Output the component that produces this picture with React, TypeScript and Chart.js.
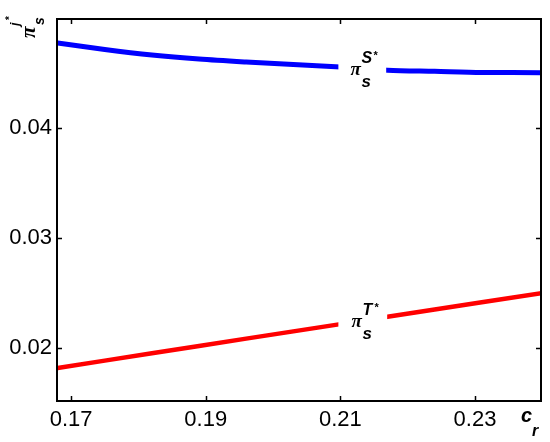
import React, { useEffect, useRef } from 'react';
import { Chart, registerables } from 'chart.js';

Chart.register(...registerables);

// Data
const crValues = [0.168, 0.175, 0.182, 0.189, 0.196, 0.203, 0.21, 0.217, 0.224, 0.231, 0.24];
const piSValues = [0.04773, 0.04714, 0.04664, 0.04627, 0.046, 0.04577, 0.04555, 0.04525, 0.04515, 0.04505, 0.04503];
const piTValues = [0.01818, 0.01885, 0.01952, 0.02018, 0.02085, 0.02151, 0.02217, 0.02284, 0.0235, 0.02416, 0.025];
const xTickValues = [0.17, 0.19, 0.21, 0.23];
const yTickValues = [0.02, 0.03, 0.04];
const xRange = [0.1679, 0.2398];
const yRange = [0.01518, 0.04991];

const FONT = "'Liberation Sans', Arial, sans-serif";

const decorPlugin = {
  id: 'decor',
  afterDatasetsDraw(chart: any) {
    const ctx = chart.ctx as CanvasRenderingContext2D;
    const { left, right, top, bottom } = chart.chartArea;
    const xs = chart.scales.x;
    const ys = chart.scales.y;
    ctx.save();
    // gaps in the curves where the labels sit
    ctx.fillStyle = '#ffffff';
    const gx0 = xs.getPixelForValue(0.2097);
    const gx1 = xs.getPixelForValue(0.2168);
    const by = ys.getPixelForValue(0.0454);
    ctx.fillRect(gx0, by - 9, gx1 - gx0, 18);
    const ry = ys.getPixelForValue(0.0225);
    ctx.fillRect(gx0, ry - 10, gx1 - gx0 + 1, 20);

    // curve labels
    const drawPi = (lx: number, base: number, sup: string) => {
      ctx.fillStyle = '#000';
      ctx.textAlign = 'left';
      ctx.textBaseline = 'alphabetic';
      ctx.font = "italic bold 19px 'Liberation Serif', serif";
      ctx.fillText('π', lx, base);
      ctx.font = `italic bold 16px ${FONT}`;
      ctx.fillText(sup, lx + 11, base - 12);
      ctx.font = `italic bold 17px ${FONT}`;
      ctx.fillText('s', lx + 11, base + 12);
      ctx.font = `bold 11px ${FONT}`;
      ctx.fillText('*', lx + 23, base - 16);
    };
    const lblX = xs.getPixelForValue(0.2132);
    drawPi(lblX - 11.5, ys.getPixelForValue(0.0455) + 7.5, 'S');
    drawPi(lblX - 10.5, ys.getPixelForValue(0.0221) + 2, 'T');

    // box
    ctx.strokeStyle = '#000';
    ctx.lineWidth = 2;
    ctx.strokeRect(left, top, right - left, bottom - top);
    // inward ticks
    ctx.lineWidth = 1.5;
    ctx.beginPath();
    xTickValues.forEach((v) => {
      const px = Math.round(xs.getPixelForValue(v)) + 0.5;
      ctx.moveTo(px, bottom);
      ctx.lineTo(px, bottom - 5);
      ctx.moveTo(px, top);
      ctx.lineTo(px, top + 5);
    });
    yTickValues.forEach((v) => {
      const py = Math.round(ys.getPixelForValue(v)) + 0.5;
      ctx.moveTo(left, py);
      ctx.lineTo(left + 5, py);
      ctx.moveTo(right, py);
      ctx.lineTo(right - 5, py);
    });
    ctx.stroke();

    // x axis title c_r
    ctx.fillStyle = '#000';
    ctx.textAlign = 'left';
    ctx.textBaseline = 'alphabetic';
    ctx.font = `italic bold 20px ${FONT}`;
    ctx.fillText('c', 521, 422);
    ctx.font = `italic bold 16px ${FONT}`;
    ctx.fillText('r', 532, 436);

    // y axis title pi_s^{j*}
    ctx.save();
    ctx.translate(35, 38);
    ctx.rotate(-Math.PI / 2);
    ctx.font = "italic bold 21px 'Liberation Serif', serif";
    ctx.fillText('π', 0, 0);
    ctx.font = `italic bold 14px ${FONT}`;
    ctx.fillText('s', 13, 9);
    ctx.font = `italic bold 13px ${FONT}`;
    ctx.fillText('j', 12, -16);
    ctx.font = `bold 10px ${FONT}`;
    ctx.fillText('*', 18, -22);
    ctx.restore();

    ctx.restore();
  },
};

export default function App() {
  const ref = useRef<HTMLCanvasElement>(null);
  useEffect(() => {
    if (!ref.current) return;
    const chart = new Chart(ref.current, {
      type: 'line',
      data: {
        datasets: [
          {
            label: 'piS',
            data: crValues.map((x, i) => ({ x, y: piSValues[i] })),
            borderColor: '#0000ff',
            borderWidth: 5,
            pointRadius: 0,
            tension: 0.3,
            fill: false,
          },
          {
            label: 'piT',
            data: crValues.map((x, i) => ({ x, y: piTValues[i] })),
            borderColor: '#ff0000',
            borderWidth: 4.5,
            pointRadius: 0,
            tension: 0,
            fill: false,
          },
        ],
      },
      options: {
        responsive: false,
        animation: false,
        events: [],
        layout: { padding: { top: 19, right: 9, left: 0, bottom: 0 } },
        plugins: { legend: { display: false }, tooltip: { enabled: false } },
        scales: {
          x: {
            type: 'linear',
            min: xRange[0],
            max: xRange[1],
            grid: { display: false, drawTicks: false },
            border: { display: false },
            afterBuildTicks: (s: any) => {
              s.ticks = xTickValues.map((v) => ({ value: v }));
            },
            afterFit: (s: any) => {
              s.height = 41;
            },
            ticks: {
              padding: 6,
              color: '#000',
              font: { family: FONT, size: 22 },
              maxRotation: 0,
              callback: (v: any) => Number(v).toFixed(2),
            },
          },
          y: {
            type: 'linear',
            min: yRange[0],
            max: yRange[1],
            grid: { display: false, drawTicks: false },
            border: { display: false },
            afterBuildTicks: (s: any) => {
              s.ticks = yTickValues.map((v) => ({ value: v }));
            },
            afterFit: (s: any) => {
              s.width = 57;
            },
            ticks: {
              padding: 5,
              color: '#000',
              font: { family: FONT, size: 22 },
              callback: (v: any) => Number(v).toFixed(2),
            },
          },
        },
      },
      plugins: [decorPlugin],
    });
    return () => chart.destroy();
  }, []);
  return (
    <div style={{ position: 'absolute', left: 0, top: 0, width: 550, height: 442, background: '#fff' }}>
      <canvas ref={ref} width={550} height={442} style={{ display: 'block' }} />
    </div>
  );
}
